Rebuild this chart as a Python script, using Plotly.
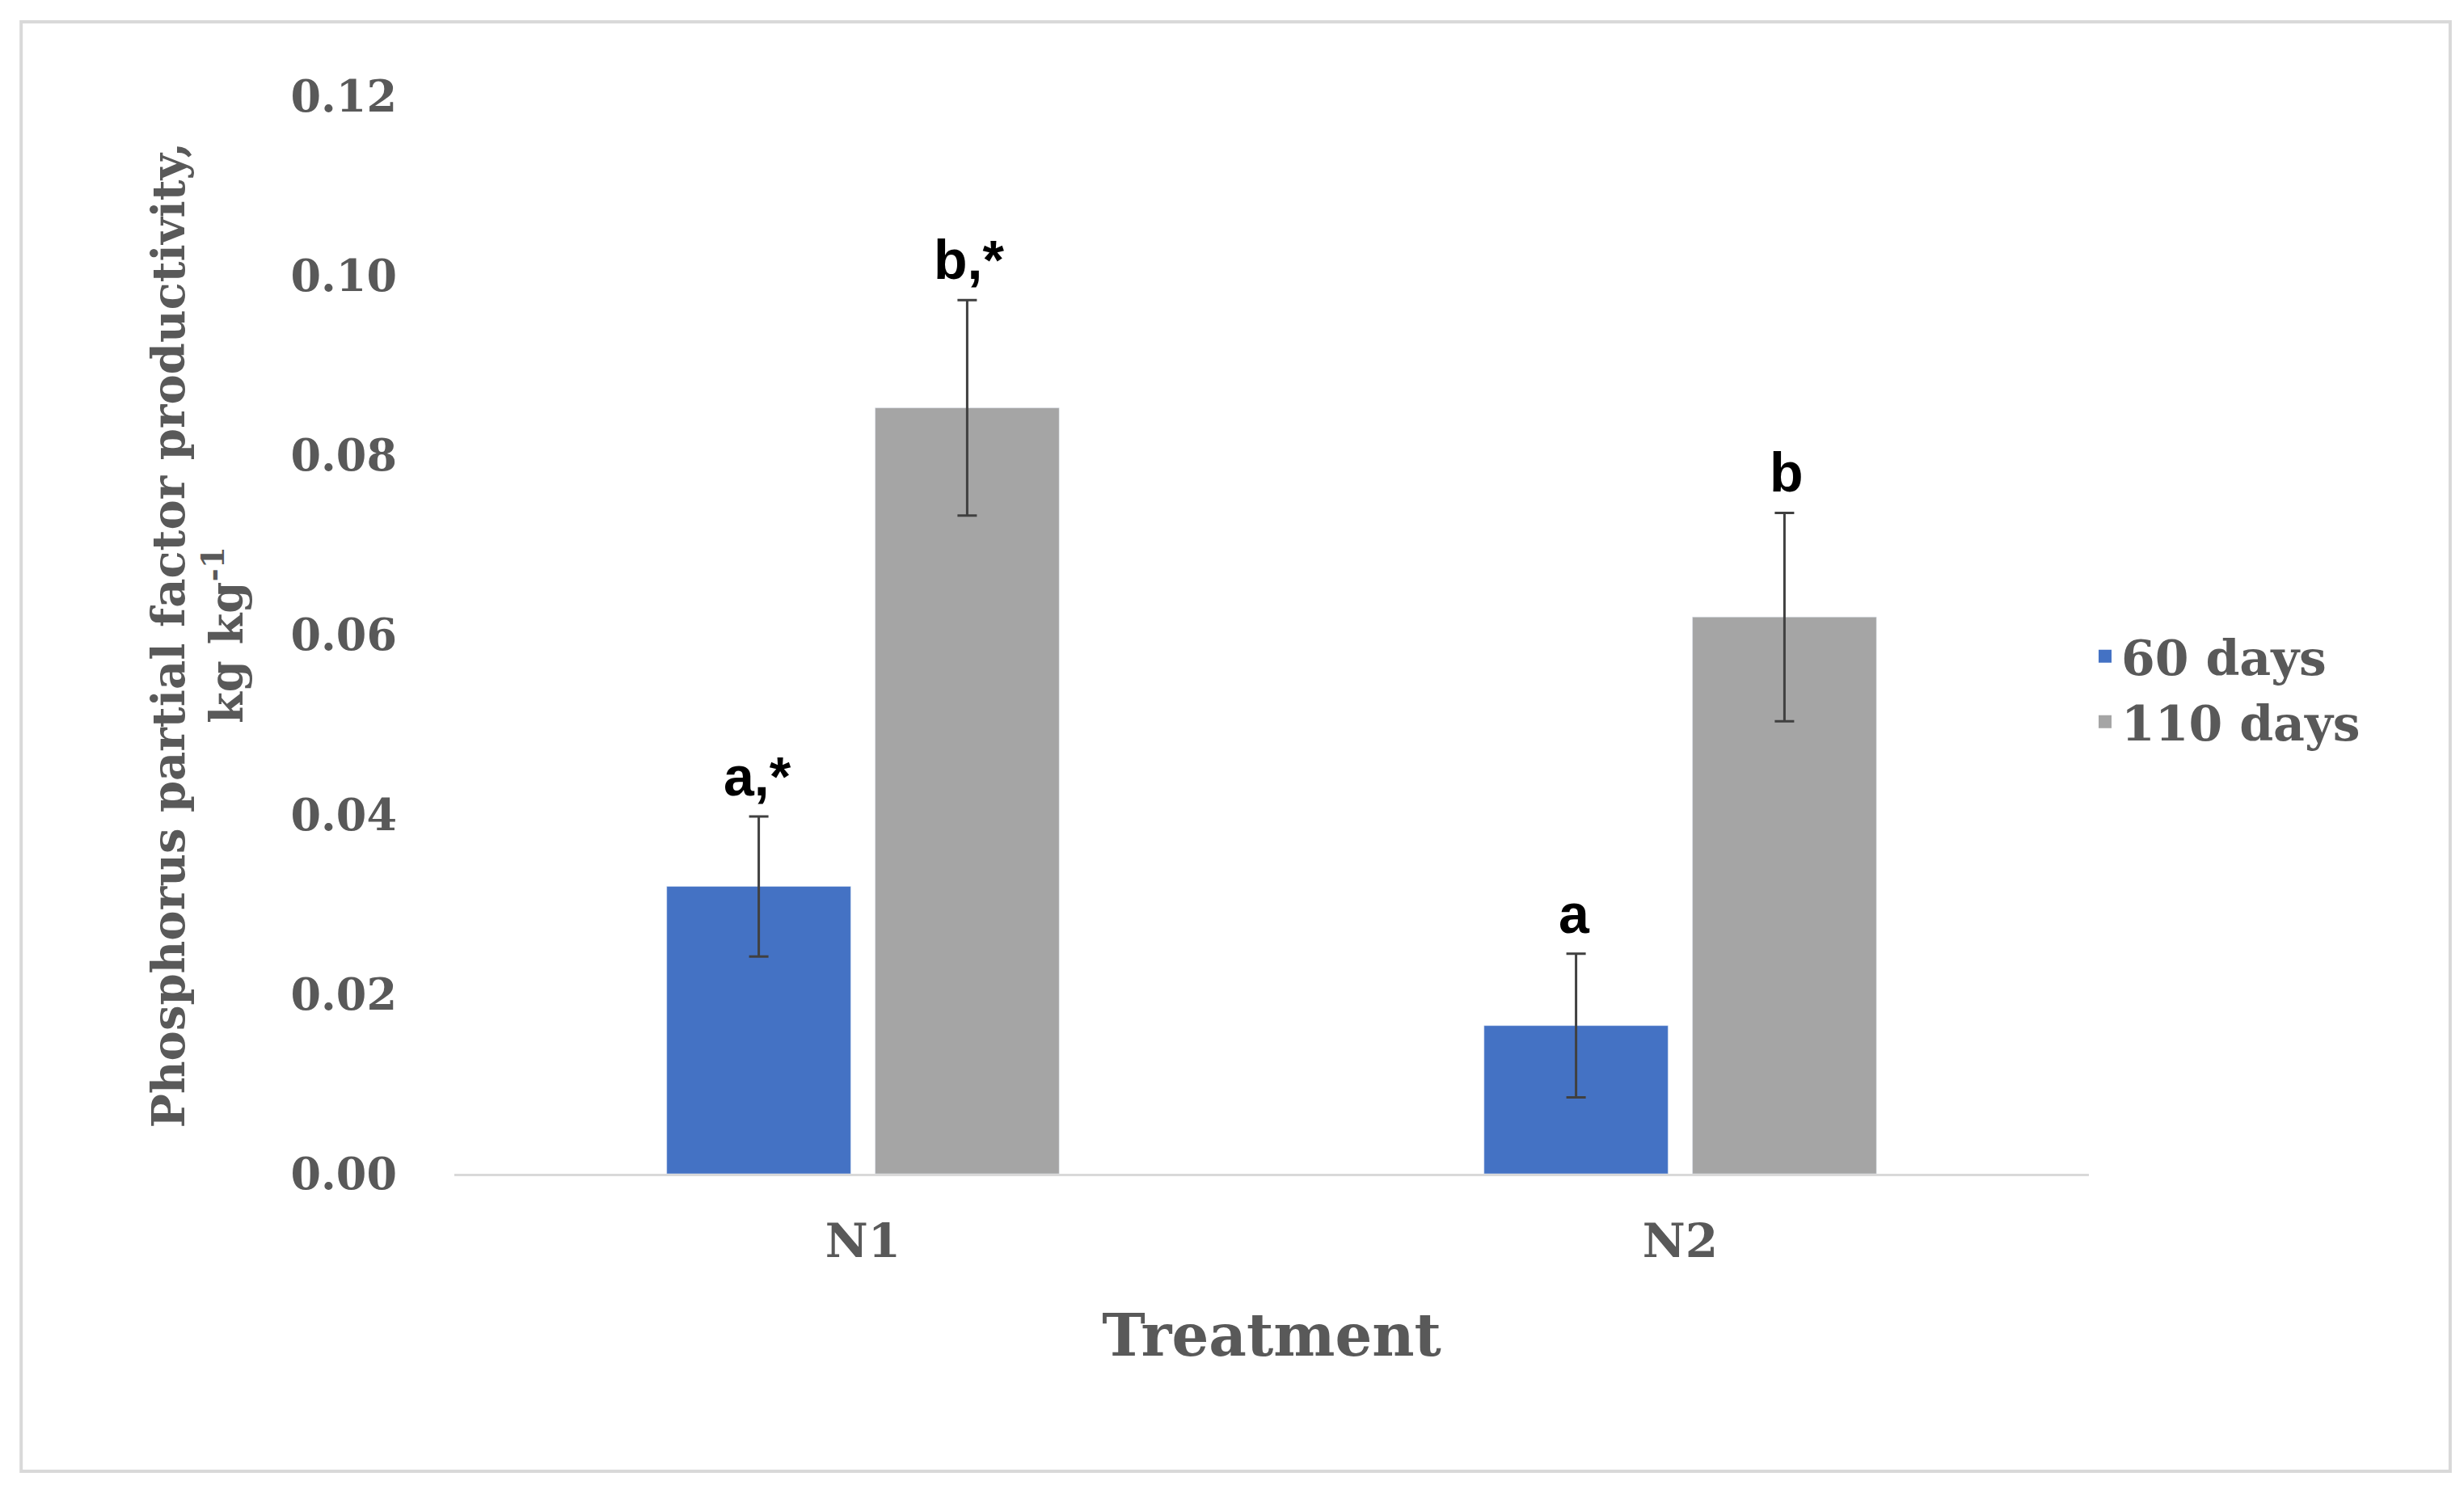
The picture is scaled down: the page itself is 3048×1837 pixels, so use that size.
import plotly.graph_objects as go

treatments = ["N1", "N2"]
days60 = [0.0320, 0.0165]
days60_err = [0.0078, 0.0080]
days110 = [0.0853, 0.0620]
days110_err = [0.0120, 0.0116]
labels60 = ["a,*", "a"]
labels110 = ["b,*", "b"]
y_ticks = [0.00, 0.02, 0.04, 0.06, 0.08, 0.10, 0.12]

serif = "DejaVu Serif"
grey = "#595959"
c60 = "#4472C4"
c110 = "#A5A5A5"

fig = go.Figure()
fig.add_trace(go.Bar(
    x=treatments, y=days60, name="60 days", marker_color=c60, showlegend=False,
    error_y=dict(type="data", array=days60_err, color="#404040", thickness=3, width=12),
))
fig.add_trace(go.Bar(
    x=treatments, y=days110, name="110 days", marker_color=c110, showlegend=False,
    error_y=dict(type="data", array=days110_err, color="#404040", thickness=3, width=12),
))
# legend entries with larger square swatches
for name, col in [("60 days", c60), ("110 days", c110)]:
    fig.add_trace(go.Scatter(x=[None], y=[None], mode="markers", name=name,
                             marker=dict(symbol="square", size=36, color=col)))

for i, t in enumerate(treatments):
    fig.add_annotation(x=t, y=days60[i] + days60_err[i], text=f"<b>{labels60[i]}</b>",
                       xshift=-131, yshift=50, showarrow=False,
                       font=dict(family="Liberation Sans", size=68, color="black"))
    fig.add_annotation(x=t, y=days110[i] + days110_err[i], text=f"<b>{labels110[i]}</b>",
                       xshift=131, yshift=50, showarrow=False,
                       font=dict(family="Liberation Sans", size=68, color="black"))

fig.add_shape(type="rect", xref="paper", yref="paper", x0=-0.265, x1=1.221, y0=-0.276, y1=1.069,
              line=dict(color="#D9D9D9", width=4))

fig.update_layout(
    width=3048, height=1837, plot_bgcolor="white", paper_bgcolor="white",
    margin=dict(l=554, r=472, t=111, b=393),
    barmode="group", bargap=0.49, bargroupgap=0.117,
    font=dict(family=serif, color=grey, size=52),
    legend=dict(x=1.0, y=0.45, yanchor="middle", xanchor="left",
                font=dict(size=60, color=grey, weight="bold"), tracegroupgap=40,
                itemwidth=30),
    xaxis=dict(showline=True, linecolor="#D9D9D9", linewidth=3, ticks="",
               ticklabelstandoff=30,
               tickfont=dict(size=58, color=grey, weight="bold"),
               title=dict(text="<b>Treatment</b>", font=dict(size=72, color=grey), standoff=60)),
    yaxis=dict(range=[0, 0.12], tickvals=y_ticks, tickformat=".2f", showgrid=False,
               zeroline=False, showline=False, ticks="", ticklabelstandoff=70,
               tickfont=dict(size=54, color=grey, weight="bold"),
               title=dict(text="Phosphorus partial factor productivity,<br>kg kg<sup>-1</sup>",
                          font=dict(size=56, color=grey, weight="bold"), standoff=40)),
)

fig.write_html("out.html")
